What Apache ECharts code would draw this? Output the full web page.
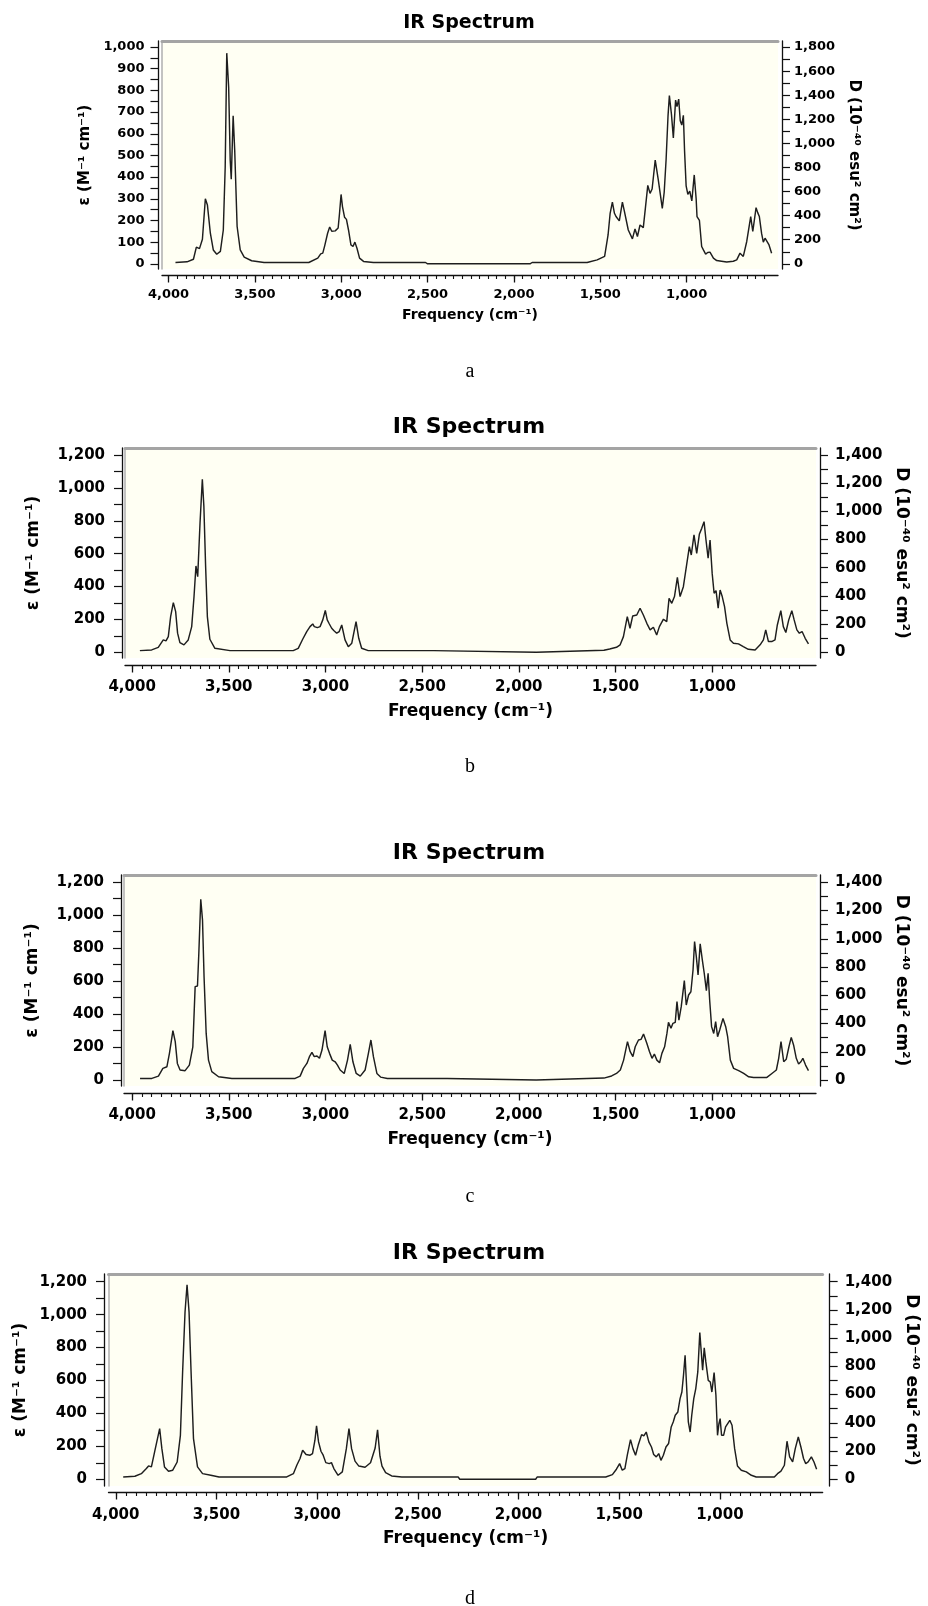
<!DOCTYPE html>
<html>
<head>
<meta charset="utf-8">
<script src="https://cdn.jsdelivr.net/npm/echarts@6/dist/echarts.min.js"></script>
<style>
	html, body { margin: 0; padding: 0; background: #fff; }
	#chart { width: 928px; height: 1606px; }
</style>
</head>
<body>
<div id="chart"></div>
<script>
// [frequency cm-1, epsilon]
var spectrumA = [
	[3960,6],[3893,9],[3856,21],[3839,77],[3821,70],[3804,113],[3787,300],[3775,271],[3758,141],[3741,64],
	[3721,44],[3700,57],[3683,156],[3672,448],[3663,972],[3652,816],[3643,478],[3637,390],[3626,683],[3617,525],
	[3603,172],[3585,64],[3562,31],[3519,14],[3447,6],[3188,6],[3136,26],[3119,46],[3107,49],[3096,83],
	[3079,141],[3067,170],[3055,150],[3035,152],[3018,165],[3010,233],[3001,320],[2993,264],[2981,215],[2970,205],
	[2958,156],[2944,87],[2932,80],[2921,100],[2909,72],[2894,26],[2871,11],[2814,6],[2512,6],[2500,0],
	[1907,0],[1895,6],[1576,6],[1518,18],[1475,34],[1455,133],[1443,233],[1430,285],[1418,233],[1409,218],
	[1390,198],[1372,285],[1361,244],[1350,235],[1338,156],[1314,115],[1299,161],[1285,126],[1270,179],[1251,167],
	[1238,264],[1225,362],[1212,325],[1200,345],[1182,478],[1164,386],[1141,256],[1130,330],[1119,480],[1108,680],
	[1100,776],[1088,690],[1077,581],[1064,755],[1056,725],[1046,760],[1037,660],[1028,640],[1019,685],[1012,520],
	[1003,360],[993,320],[982,335],[970,290],[956,410],[945,300],[940,218],[926,200],[913,80],[903,64],
	[890,45],[878,52],[865,54],[845,26],[826,15],[798,12],[768,8],[730,12],[710,18],[691,49],
	[672,34],[652,103],[629,218],[617,149],[598,259],[588,235],[579,218],[566,140],[556,100],[546,118],
	[536,123],[523,87],[508,49]
];
var spectrumB = [
	[3960,10],[3899,14],[3865,30],[3839,75],[3825,69],[3813,95],[3801,217],[3787,302],[3775,247],[3765,116],
	[3753,59],[3732,45],[3710,75],[3692,156],[3680,339],[3670,525],[3661,460],[3649,785],[3637,1052],[3629,886],
	[3620,521],[3611,217],[3598,79],[3572,24],[3494,10],[3167,10],[3141,24],[3118,79],[3097,126],[3080,156],
	[3066,172],[3058,156],[3042,150],[3028,156],[3014,197],[3001,254],[2991,197],[2980,172],[2968,146],[2956,131],
	[2942,116],[2929,126],[2916,166],[2899,75],[2882,34],[2864,55],[2842,187],[2828,85],[2813,24],[2779,10],
	[2440,10],[2432,0],[1910,0],[1902,10],[1560,12],[1530,20],[1495,30],[1476,45],[1459,95],[1439,217],
	[1425,146],[1411,221],[1390,227],[1373,268],[1356,227],[1338,176],[1321,136],[1304,152],[1287,105],[1273,156],
	[1252,201],[1235,186],[1223,328],[1209,298],[1195,339],[1180,456],[1166,339],[1149,399],[1131,541],[1118,643],
	[1108,592],[1094,714],[1080,602],[1066,720],[1054,754],[1042,795],[1032,683],[1021,572],[1011,683],[1000,480],
	[990,359],[980,375],[969,268],[959,379],[948,339],[936,278],[924,176],[907,75],[890,55],[864,51],
	[839,34],[813,18],[778,14],[752,45],[735,75],[723,136],[709,65],[692,65],[675,75],[663,166],
	[645,253],[632,156],[619,120],[604,197],[588,253],[576,197],[562,136],[549,116],[535,126],[519,85],
	[502,51]
];
var spectrumC = [
	[3959,10],[3898,10],[3864,24],[3841,71],[3820,81],[3807,162],[3789,300],[3777,233],[3766,101],[3752,61],
	[3726,57],[3704,91],[3686,202],[3674,567],[3662,571],[3655,769],[3645,1097],[3636,972],[3628,628],[3617,283],
	[3605,121],[3588,51],[3553,20],[3484,10],[3157,10],[3131,24],[3114,71],[3096,101],[3083,142],[3070,168],
	[3058,142],[3044,146],[3031,132],[3018,182],[3002,300],[2991,202],[2979,162],[2965,121],[2950,111],[2938,91],
	[2924,61],[2903,40],[2886,121],[2872,217],[2858,111],[2841,40],[2820,24],[2795,61],[2778,162],[2765,243],
	[2752,142],[2734,40],[2715,18],[2680,10],[2370,10],[2362,0],[1910,0],[1902,10],[1560,12],[1520,25],
	[1495,40],[1475,61],[1458,121],[1438,233],[1424,172],[1410,142],[1398,202],[1381,243],[1368,247],[1355,279],
	[1338,223],[1324,172],[1311,132],[1299,158],[1286,121],[1272,105],[1260,162],[1246,202],[1234,283],[1226,350],
	[1213,314],[1203,344],[1191,350],[1182,476],[1172,364],[1160,445],[1144,603],[1134,455],[1122,516],[1110,536],
	[1099,668],[1091,840],[1082,749],[1073,638],[1062,826],[1051,729],[1041,648],[1030,543],[1021,648],[1013,486],
	[1003,324],[992,283],[982,354],[972,263],[961,304],[944,374],[930,324],[920,263],[906,121],[889,71],
	[863,57],[837,40],[811,20],[786,16],[717,16],[691,40],[668,61],[656,132],[644,233],[630,111],
	[617,126],[603,202],[591,259],[579,213],[565,132],[553,97],[541,111],[531,132],[517,91],[502,57]
];
var spectrumD = [
	[3963,14],[3905,18],[3873,34],[3848,65],[3837,81],[3823,75],[3807,166],[3782,308],[3771,186],[3758,75],
	[3738,49],[3717,55],[3695,105],[3679,267],[3668,652],[3656,1016],[3646,1182],[3636,1016],[3626,652],[3614,247],
	[3594,75],[3569,34],[3528,24],[3487,14],[3151,14],[3118,34],[3101,85],[3085,126],[3072,176],[3055,150],
	[3035,146],[3023,156],[3011,237],[3003,324],[2993,227],[2981,170],[2970,146],[2957,101],[2940,95],[2929,101],
	[2917,65],[2896,24],[2875,45],[2855,186],[2842,308],[2829,186],[2812,110],[2793,80],[2762,73],[2735,100],
	[2712,190],[2700,300],[2688,140],[2678,80],[2660,40],[2630,20],[2580,14],[2300,14],[2292,0],[1915,0],
	[1907,14],[1616,14],[1567,14],[1534,28],[1514,61],[1498,95],[1485,55],[1472,65],[1460,146],[1444,241],
	[1432,186],[1419,146],[1406,206],[1389,271],[1378,263],[1366,287],[1353,227],[1340,196],[1329,150],[1316,136],
	[1304,156],[1293,115],[1281,146],[1268,196],[1255,217],[1242,318],[1232,348],[1222,389],[1209,409],[1198,490],
	[1189,530],[1181,632],[1173,753],[1165,551],[1157,348],[1148,287],[1140,389],[1130,490],[1120,551],[1110,652],
	[1100,891],[1094,794],[1086,662],[1078,798],[1070,713],[1058,601],[1048,591],[1040,530],[1029,648],[1020,510],
	[1012,267],[1005,338],[999,368],[992,267],[982,267],[972,318],[963,324],[951,358],[940,328],[927,186],
	[913,81],[894,55],[869,45],[844,24],[820,14],[730,14],[714,34],[697,49],[680,85],[667,231],
	[654,136],[639,105],[626,186],[611,257],[598,196],[585,126],[574,95],[562,105],[546,136],[533,105],
	[520,61]
];

// tick and label values
var freqLabels = [4000,3500,3000,2500,2000,1500,1000];
var freqMinor = [4000,3950,3900,3850,3800,3750,3700,3650,3600,3550,3500,3450,3400,3350,3300,3250,3200,3150,3100,3050,
	3000,2950,2900,2850,2800,2750,2700,2650,2600,2550,2500,2450,2400,2350,2300,2250,2200,2150,2100,2050,
	2000,1950,1900,1850,1800,1750,1700,1650,1600,1550,1500,1450,1400,1350,1300,1250,1200,1150,1100,1050,
	1000,950,900,850,800,750,700,650,600,550];
var epsLabelsA = [0,100,200,300,400,500,600,700,800,900,1000];
var epsTicksA = [0,50,100,150,200,250,300,350,400,450,500,550,600,650,700,750,800,850,900,950,1000];
var dLabelsA = [0,200,400,600,800,1000,1200,1400,1600,1800];
var dTicksA = [0,100,200,300,400,500,600,700,800,900,1000,1100,1200,1300,1400,1500,1600,1700,1800];
var epsLabelsB = [0,200,400,600,800,1000,1200];
var epsTicksB = [0,100,200,300,400,500,600,700,800,900,1000,1100,1200];
var dLabelsB = [0,200,400,600,800,1000,1200,1400];
var dTicksB = [0,100,200,300,400,500,600,700,800,900,1000,1100,1200,1300,1400];
var captions = ['a','b','c','d'];

var panels = [
	{data: spectrumA, epsL: epsLabelsA, epsT: epsTicksA, dL: dLabelsA, dT: dTicksA, dScale: 1.8,
		left: 162, top: 41, width: 616, height: 228, xMin: 471, xMax: 4038, yMin: -24, yMax: 1028,
		xOff: 6, yOffL: 3.5, yOffR: 4, tickFont: 13, nameFont: 15, xNameFont: 14, xNameGap: 33, xLabMargin: 13,
		yLabMargin: 14, nameGapL: 61, nameGapR: 60, titleY: 23, titleFont: 19, captionY: 372},
	{data: spectrumB, epsL: epsLabelsB, epsT: epsTicksB, dL: dLabelsB, dT: dTicksB, dScale: 7 / 6,
		left: 125, top: 448, width: 691, height: 210, xMin: 463, xMax: 4037, yMin: -35, yMax: 1243,
		xOff: 7, yOffL: 3, yOffR: 4, tickFont: 15, nameFont: 17, xNameFont: 17, xNameGap: 38, xLabMargin: 15,
		yLabMargin: 17, nameGapL: 80, nameGapR: 72, titleY: 427, titleFont: 22, captionY: 767},
	{data: spectrumC, epsL: epsLabelsB, epsT: epsTicksB, dL: dLabelsB, dT: dTicksB, dScale: 7 / 6,
		left: 124, top: 875, width: 692, height: 211, xMin: 463, xMax: 4042, yMin: -36, yMax: 1244,
		xOff: 7, yOffL: 3, yOffR: 4, tickFont: 15, nameFont: 17, xNameFont: 17, xNameGap: 38, xLabMargin: 15,
		yLabMargin: 17, nameGapL: 80, nameGapR: 72, titleY: 853, titleFont: 22, captionY: 1197},
	{data: spectrumD, epsL: epsLabelsB, epsT: epsTicksB, dL: dLabelsB, dT: dTicksB, dScale: 7 / 6,
		left: 108.5, top: 1274, width: 720, height: 212, xMin: 490, xMax: 4036, yMin: -41, yMax: 1247,
		xOff: 6, yOffL: 4.5, yOffR: 7, tickFont: 15, nameFont: 17, xNameFont: 17, xNameGap: 38, xLabMargin: 16,
		yLabMargin: 17, nameGapL: 74, nameGapR: 62, titleY: 1253, titleFont: 22, captionY: 1599}
];

var FONT = 'DejaVu Sans';
var fmt = function(v){ return v.toLocaleString('en-US'); };

var grids = [], xAxes = [], yAxes = [], series = [], graphics = [];
for(var i = 0; i < panels.length; i++){

	var p = panels[i];
	grids.push({
		left: p.left, top: p.top, width: p.width, height: p.height,
		show: true, backgroundColor: '#fffff3', borderWidth: 0
	});
	// labelled frequency axis, major ticks
	xAxes.push({
		gridIndex: i, type: 'value', inverse: true, min: p.xMin, max: p.xMax, position: 'bottom', offset: p.xOff,
		axisLine: {show: true, onZero: false, lineStyle: {color: '#111', width: 1.3}},
		axisTick: {show: true, length: 7.5, customValues: freqLabels, lineStyle: {color: '#111', width: 1.3}},
		axisLabel: {customValues: freqLabels, formatter: fmt, margin: p.xLabMargin, color: '#000',
			fontFamily: FONT, fontWeight: 'bold', fontSize: p.tickFont},
		splitLine: {show: false},
		name: 'Frequency (cm\u207B\u00B9)', nameLocation: 'middle', nameGap: p.xNameGap,
		nameTextStyle: {color: '#000', fontFamily: FONT, fontWeight: 'bold', fontSize: p.xNameFont}
	});
	// minor ticks
	xAxes.push({
		gridIndex: i, type: 'value', inverse: true, min: p.xMin, max: p.xMax, position: 'bottom', offset: p.xOff,
		axisLine: {show: false, onZero: false},
		axisTick: {show: true, length: 4, customValues: freqMinor, lineStyle: {color: '#111', width: 1.1}},
		axisLabel: {show: false}, splitLine: {show: false}
	});
	// grey top frame
	xAxes.push({
		gridIndex: i, type: 'value', inverse: true, min: p.xMin, max: p.xMax, position: 'top', offset: 0,
		axisLine: {show: true, onZero: false, lineStyle: {color: '#a4a4a4', width: 3}},
		axisTick: {show: false}, axisLabel: {show: false}, splitLine: {show: false}
	});
	// grey left frame
	yAxes.push({
		gridIndex: i, type: 'value', min: p.yMin, max: p.yMax, position: 'left', offset: 0,
		axisLine: {show: true, onZero: false, lineStyle: {color: '#b4b4b4', width: 1.6}},
		axisTick: {show: false}, axisLabel: {show: false}, splitLine: {show: false}
	});
	// epsilon axis
	yAxes.push({
		gridIndex: i, type: 'value', min: p.yMin, max: p.yMax, position: 'left', offset: p.yOffL,
		axisLine: {show: true, onZero: false, lineStyle: {color: '#111', width: 1.3}},
		axisTick: {show: true, length: 8, customValues: p.epsT, lineStyle: {color: '#111', width: 1.2}},
		axisLabel: {customValues: p.epsL, formatter: fmt, margin: p.yLabMargin, color: '#000',
			fontFamily: FONT, fontWeight: 'bold', fontSize: p.tickFont},
		splitLine: {show: false},
		name: '\u03B5 (M\u207B\u00B9 cm\u207B\u00B9)', nameLocation: 'middle', nameGap: p.nameGapL, nameRotate: 90,
		nameTextStyle: {color: '#000', fontFamily: FONT, fontWeight: 'bold', fontSize: p.nameFont}
	});
	// D axis
	yAxes.push({
		gridIndex: i, type: 'value', min: p.yMin * p.dScale, max: p.yMax * p.dScale, position: 'right', offset: p.yOffR,
		axisLine: {show: true, onZero: false, lineStyle: {color: '#111', width: 1.3}},
		axisTick: {show: true, length: 8, customValues: p.dT, lineStyle: {color: '#111', width: 1.2}},
		axisLabel: {customValues: p.dL, formatter: fmt, margin: p.yLabMargin - 2, color: '#000',
			fontFamily: FONT, fontWeight: 'bold', fontSize: p.tickFont},
		splitLine: {show: false},
		name: 'D (10\u207B\u2074\u2070 esu\u00B2 cm\u00B2)', nameLocation: 'middle', nameGap: p.nameGapR, nameRotate: -90,
		nameTextStyle: {color: '#000', fontFamily: FONT, fontWeight: 'bold', fontSize: p.nameFont}
	});
	series.push({
		type: 'line', xAxisIndex: i * 3, yAxisIndex: i * 3 + 1, data: p.data,
		showSymbol: false, symbol: 'none', smooth: false,
		lineStyle: {color: '#1e1e1e', width: 1.45}
	});
	graphics.push({
		type: 'text', x: 469, y: p.titleY,
		style: {text: 'IR Spectrum', fill: '#000', font: 'bold ' + p.titleFont + 'px "' + FONT + '"',
			textAlign: 'center', textVerticalAlign: 'middle'}
	});
	graphics.push({
		type: 'text', x: 470, y: p.captionY,
		style: {text: captions[i], fill: '#000', font: '20px "Liberation Serif"',
			textAlign: 'center', textVerticalAlign: 'middle'}
	});
}

var chart = echarts.init(document.getElementById('chart'));
chart.setOption({
	animation: false,
	backgroundColor: '#fff',
	grid: grids,
	xAxis: xAxes,
	yAxis: yAxes,
	series: series,
	graphic: graphics
});
</script>
</body>
</html>
